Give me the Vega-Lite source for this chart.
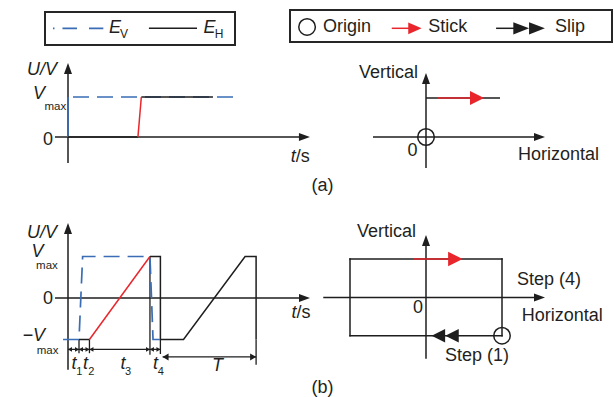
{
"$schema": "https://vega.github.io/schema/vega-lite/v6.json",
"width": 614, "height": 397, "autosize": "none", "padding": 0, "background": "white",
"config": {"view": {"stroke": null}, "text": {"font": "Liberation Sans", "color": "#231f20"}},
"resolve": {"scale": {"x": "independent", "y": "independent"}},
"layer": [
 {
  "encoding": {
   "x": {"field": "x", "type": "quantitative", "axis": null, "scale": {"domain": [0, 1], "range": [45, 235], "nice": false, "zero": false}},
   "y": {"field": "y", "type": "quantitative", "axis": null, "scale": {"domain": [0, 1], "range": [45, 12], "nice": false, "zero": false}}
  },
  "layer": [
   {"data": {"values": [{"x": 0, "y": 0, "x2": 1, "y2": 1}]}, "mark": {"type": "rect", "filled": false, "stroke": "#262626", "strokeWidth": 2}, "encoding": {"x2": {"field": "x2"}, "y2": {"field": "y2"}}},
   {"data": {"values": [{"x": 0.042, "y": 0.506, "x2": 0.307, "y2": 0.506}]}, "mark": {"type": "rule", "color": "#3a6db5", "strokeWidth": 1.7, "strokeDash": [1.5, 8, 14.5, 12, 14.5, 20]}, "encoding": {"x2": {"field": "x2"}, "y2": {"field": "y2"}}},
   {"data": {"values": [{"x": 0.547, "y": 0.506, "x2": 0.8, "y2": 0.506}]}, "mark": {"type": "rule", "color": "#1e1e1e", "strokeWidth": 1.5}, "encoding": {"x2": {"field": "x2"}, "y2": {"field": "y2"}}},
   {"data": {"values": [{"x": 0.368, "y": 0.506, "label": "E"}, {"x": 0.866, "y": 0.506, "label": "E"}]}, "mark": {"type": "text", "fontSize": 18, "fontStyle": "italic", "align": "center", "baseline": "middle"}, "encoding": {"text": {"field": "label"}}},
   {"data": {"values": [{"x": 0.416, "y": 0.333, "label": "V"}, {"x": 0.916, "y": 0.333, "label": "H"}]}, "mark": {"type": "text", "fontSize": 12, "align": "center", "baseline": "middle"}, "encoding": {"text": {"field": "label"}}}
  ]
 },
 {
  "encoding": {
   "x": {"field": "x", "type": "quantitative", "axis": null, "scale": {"domain": [0, 1], "range": [290, 612], "nice": false, "zero": false}},
   "y": {"field": "y", "type": "quantitative", "axis": null, "scale": {"domain": [0, 1], "range": [42, 10], "nice": false, "zero": false}}
  },
  "layer": [
   {"data": {"values": [{"x": 0, "y": 0, "x2": 1, "y2": 1}]}, "mark": {"type": "rect", "filled": false, "stroke": "#262626", "strokeWidth": 2}, "encoding": {"x2": {"field": "x2"}, "y2": {"field": "y2"}}},
   {"data": {"values": [{"x": 0.053, "y": 0.47}]}, "mark": {"type": "point", "shape": "circle", "size": 275, "filled": false, "stroke": "#1e1e1e", "strokeWidth": 1.5, "opacity": 1}},
   {"data": {"values": [{"x": 0.316, "y": 0.428, "x2": 0.37, "y2": 0.428}]}, "mark": {"type": "rule", "color": "#e8262c", "strokeWidth": 1.5}, "encoding": {"x2": {"field": "x2"}, "y2": {"field": "y2"}}},
   {"data": {"values": [{"x": 0.388, "y": 0.428}]}, "mark": {"type": "point", "shape": "M1,0L-1,-0.87L-1,0.87Z", "size": 180, "filled": true, "color": "#e8262c", "strokeWidth": 0, "opacity": 1}},
   {"data": {"values": [{"x": 0.64, "y": 0.428, "x2": 0.717, "y2": 0.428}]}, "mark": {"type": "rule", "color": "#1e1e1e", "strokeWidth": 1.5}, "encoding": {"x2": {"field": "x2"}, "y2": {"field": "y2"}}},
   {"data": {"values": [{"x": 0.718, "y": 0.428}, {"x": 0.767, "y": 0.428}]}, "mark": {"type": "point", "shape": "M1,0L-1,-0.78L-1,0.78Z", "size": 250, "filled": true, "color": "#1e1e1e", "strokeWidth": 0, "opacity": 1}},
   {"data": {"values": [{"x": 0.1025, "y": 0.47, "label": "Origin"}, {"x": 0.4295, "y": 0.47, "label": "Stick"}, {"x": 0.823, "y": 0.47, "label": "Slip"}]}, "mark": {"type": "text", "fontSize": 18, "align": "left", "baseline": "middle"}, "encoding": {"text": {"field": "label"}}}
  ]
 },
 {
  "encoding": {
   "x": {"field": "x", "type": "quantitative", "axis": null, "scale": {"domain": [0, 1], "range": [68, 92.2], "nice": false, "zero": false}},
   "y": {"field": "y", "type": "quantitative", "axis": null, "scale": {"domain": [0, 1], "range": [137, 97], "nice": false, "zero": false}}
  },
  "layer": [
   {"data": {"values": [{"x": 0, "y": -0.65, "x2": 0, "y2": 1.71}, {"x": -0.54, "y": 0, "x2": 9.77, "y2": 0}]}, "mark": {"type": "rule", "color": "#1e1e1e", "strokeWidth": 1.5}, "encoding": {"x2": {"field": "x2"}, "y2": {"field": "y2"}}},
   {"data": {"values": [{"x": 0, "y": 1, "x2": 6.9, "y2": 1}]}, "mark": {"type": "rule", "color": "#3a6db5", "strokeWidth": 1.7, "strokeDash": [16, 8], "strokeDashOffset": -5}, "encoding": {"x2": {"field": "x2"}, "y2": {"field": "y2"}}},
   {"data": {"values": [{"x": 0, "y": 0, "x2": 0, "y2": 1}]}, "mark": {"type": "rule", "color": "#3a6db5", "strokeWidth": 1.7}, "encoding": {"x2": {"field": "x2"}, "y2": {"field": "y2"}}},
   {"data": {"values": [{"x": 0, "y": 0, "x2": 2.89, "y2": 0}, {"x": 3.03, "y": 1, "x2": 5.99, "y2": 1}]}, "mark": {"type": "rule", "color": "#1e1e1e", "strokeWidth": 1.5}, "encoding": {"x2": {"field": "x2"}, "y2": {"field": "y2"}}},
   {"data": {"values": [{"x": 2.89, "y": 0, "x2": 3.03, "y2": 1}]}, "mark": {"type": "rule", "color": "#e8262c", "strokeWidth": 1.5}, "encoding": {"x2": {"field": "x2"}, "y2": {"field": "y2"}}},
   {"data": {"values": [{"x": 9.77, "y": 0}]}, "mark": {"type": "point", "shape": "M1,0L-1,-0.73L-1,0.73Z", "size": 121, "filled": true, "color": "#1e1e1e", "strokeWidth": 0, "opacity": 1}},
   {"data": {"values": [{"x": 0, "y": 1.71}]}, "mark": {"type": "point", "shape": "M1,0L-1,-0.73L-1,0.73Z", "size": 121, "angle": 270, "filled": true, "color": "#1e1e1e", "strokeWidth": 0, "opacity": 1}},
   {"data": {"values": [{"x": -1.07, "y": 1.675, "label": "U/V"}]}, "mark": {"type": "text", "fontSize": 18, "fontStyle": "italic", "align": "center", "baseline": "middle"}, "encoding": {"text": {"field": "label"}}},
   {"data": {"values": [{"x": -0.95, "y": 1.075, "label": "V"}]}, "mark": {"type": "text", "fontSize": 18, "fontStyle": "italic", "align": "right", "baseline": "middle"}, "encoding": {"text": {"field": "label"}}},
   {"data": {"values": [{"x": -0.97, "y": 0.75, "label": "max"}]}, "mark": {"type": "text", "fontSize": 11.5, "align": "left", "baseline": "middle"}, "encoding": {"text": {"field": "label"}}},
   {"data": {"values": [{"x": -0.83, "y": -0.075, "label": "0"}]}, "mark": {"type": "text", "fontSize": 18, "align": "center", "baseline": "middle"}, "encoding": {"text": {"field": "label"}}},
   {"data": {"values": [{"x": 9.2, "y": -0.5, "label": "t"}]}, "mark": {"type": "text", "fontSize": 18, "fontStyle": "italic", "align": "left", "baseline": "middle"}, "encoding": {"text": {"field": "label"}}},
   {"data": {"values": [{"x": 9.41, "y": -0.5, "label": "/s"}]}, "mark": {"type": "text", "fontSize": 18, "align": "left", "baseline": "middle"}, "encoding": {"text": {"field": "label"}}}
  ]
 },
 {
  "encoding": {
   "x": {"field": "x", "type": "quantitative", "axis": null, "scale": {"domain": [0, 1], "range": [426, 446], "nice": false, "zero": false}},
   "y": {"field": "y", "type": "quantitative", "axis": null, "scale": {"domain": [0, 1], "range": [137, 117], "nice": false, "zero": false}}
  },
  "layer": [
   {"data": {"values": [{"x": -2.65, "y": 0, "x2": 5.675, "y2": 0}, {"x": 0, "y": -1.55, "x2": 0, "y2": 2.925}, {"x": 0, "y": 1.95, "x2": 3.7, "y2": 1.95}]}, "mark": {"type": "rule", "color": "#1e1e1e", "strokeWidth": 1.5}, "encoding": {"x2": {"field": "x2"}, "y2": {"field": "y2"}}},
   {"data": {"values": [{"x": 0.55, "y": 1.95, "x2": 2.2, "y2": 1.95}]}, "mark": {"type": "rule", "color": "#e8262c", "strokeWidth": 1.5}, "encoding": {"x2": {"field": "x2"}, "y2": {"field": "y2"}}},
   {"data": {"values": [{"x": 2.55, "y": 1.95}]}, "mark": {"type": "point", "shape": "M1,0L-1,-1L-1,1Z", "size": 196, "filled": true, "color": "#e8262c", "strokeWidth": 0, "opacity": 1}},
   {"data": {"values": [{"x": 0, "y": 0}]}, "mark": {"type": "point", "shape": "circle", "size": 275, "filled": false, "stroke": "#1e1e1e", "strokeWidth": 1.5, "opacity": 1}},
   {"data": {"values": [{"x": 5.675, "y": 0}]}, "mark": {"type": "point", "shape": "M1,0L-1,-0.73L-1,0.73Z", "size": 121, "filled": true, "color": "#1e1e1e", "strokeWidth": 0, "opacity": 1}},
   {"data": {"values": [{"x": 0, "y": 2.925}]}, "mark": {"type": "point", "shape": "M1,0L-1,-0.73L-1,0.73Z", "size": 121, "angle": 270, "filled": true, "color": "#1e1e1e", "strokeWidth": 0, "opacity": 1}},
   {"data": {"values": [{"x": -0.4, "y": 3.2, "label": "Vertical"}]}, "mark": {"type": "text", "fontSize": 18, "align": "right", "baseline": "middle"}, "encoding": {"text": {"field": "label"}}},
   {"data": {"values": [{"x": 4.6, "y": -0.9, "label": "Horizontal"}]}, "mark": {"type": "text", "fontSize": 18, "align": "left", "baseline": "middle"}, "encoding": {"text": {"field": "label"}}},
   {"data": {"values": [{"x": -0.675, "y": -0.7, "label": "0"}, {"x": -5.175, "y": -2.43, "label": "(a)"}]}, "mark": {"type": "text", "fontSize": 18, "align": "center", "baseline": "middle"}, "encoding": {"text": {"field": "label"}}}
  ]
 },
 {
  "encoding": {
   "x": {"field": "x", "type": "quantitative", "axis": null, "scale": {"domain": [0, 1], "range": [68, 79], "nice": false, "zero": false}},
   "y": {"field": "y", "type": "quantitative", "axis": null, "scale": {"domain": [0, 1], "range": [298, 256.5], "nice": false, "zero": false}}
  },
  "layer": [
   {"data": {"values": [{"x": 0, "y": -1.73, "x2": 0, "y2": 1.675}, {"x": -1.18, "y": 0, "x2": 21.5, "y2": 0}]}, "mark": {"type": "rule", "color": "#1e1e1e", "strokeWidth": 1.5}, "encoding": {"x2": {"field": "x2"}, "y2": {"field": "y2"}}},
   {"data": {"values": [{"x": 1, "y": -1, "x2": 1, "y2": -1.33}, {"x": 1.95, "y": -1, "x2": 1.95, "y2": -1.33}, {"x": 7.45, "y": 1, "x2": 7.45, "y2": -1.37}, {"x": 8.4, "y": -1, "x2": 8.4, "y2": -1.35}, {"x": 17.1, "y": -1, "x2": 17.1, "y2": -1.61}, {"x": 0, "y": -1.24, "x2": 8.4, "y2": -1.24}, {"x": 8.6, "y": -1.42, "x2": 17.1, "y2": -1.42}]}, "mark": {"type": "rule", "color": "#1e1e1e", "strokeWidth": 1.3}, "encoding": {"x2": {"field": "x2"}, "y2": {"field": "y2"}}},
   {"data": {"values": [{"i": 0, "x": -0.45, "y": -1}, {"i": 1, "x": 1, "y": -1}, {"i": 2, "x": 1.33, "y": 1}, {"i": 3, "x": 7.45, "y": 1}, {"i": 4, "x": 7.73, "y": -1}, {"i": 5, "x": 8.4, "y": -1}]}, "mark": {"type": "line", "color": "#3a6db5", "strokeWidth": 1.7, "strokeDash": [16, 8], "strokeJoin": "miter"}, "encoding": {"order": {"field": "i", "type": "quantitative"}}},
   {"data": {"values": [{"x": 1, "y": -1, "x2": 1.95, "y2": -1}]}, "mark": {"type": "rule", "color": "#1e1e1e", "strokeWidth": 1.5}, "encoding": {"x2": {"field": "x2"}, "y2": {"field": "y2"}}},
   {"data": {"values": [{"i": 0, "x": 7.45, "y": 1}, {"i": 1, "x": 8.4, "y": 1}, {"i": 2, "x": 8.4, "y": -1}, {"i": 3, "x": 10.5, "y": -1}, {"i": 4, "x": 16.1, "y": 1}, {"i": 5, "x": 17.1, "y": 1}, {"i": 6, "x": 17.1, "y": -1}]}, "mark": {"type": "line", "color": "#1e1e1e", "strokeWidth": 1.5, "strokeJoin": "miter"}, "encoding": {"order": {"field": "i", "type": "quantitative"}}},
   {"data": {"values": [{"x": 1.95, "y": -1, "x2": 7.45, "y2": 1}]}, "mark": {"type": "rule", "color": "#e8262c", "strokeWidth": 1.5}, "encoding": {"x2": {"field": "x2"}, "y2": {"field": "y2"}}},
   {"data": {"values": [{"x": 0.82, "y": -1.24}, {"x": 1.77, "y": -1.24}, {"x": 7.27, "y": -1.24}, {"x": 8.22, "y": -1.24}]}, "mark": {"type": "point", "shape": "M1,0L-1,-1.2L-1,1.2Z", "size": 16, "filled": true, "color": "#1e1e1e", "strokeWidth": 0, "opacity": 1}},
   {"data": {"values": [{"x": 0.18, "y": -1.24}, {"x": 1.18, "y": -1.24}, {"x": 2.13, "y": -1.24}, {"x": 7.63, "y": -1.24}]}, "mark": {"type": "point", "shape": "M1,0L-1,-1.2L-1,1.2Z", "size": 16, "angle": 180, "filled": true, "color": "#1e1e1e", "strokeWidth": 0, "opacity": 1}},
   {"data": {"values": [{"x": 16.83, "y": -1.42}]}, "mark": {"type": "point", "shape": "M1,0L-1,-1.15L-1,1.15Z", "size": 36, "filled": true, "color": "#1e1e1e", "strokeWidth": 0, "opacity": 1}},
   {"data": {"values": [{"x": 8.87, "y": -1.42}]}, "mark": {"type": "point", "shape": "M1,0L-1,-1.15L-1,1.15Z", "size": 36, "angle": 180, "filled": true, "color": "#1e1e1e", "strokeWidth": 0, "opacity": 1}},
   {"data": {"values": [{"x": 21.5, "y": 0}]}, "mark": {"type": "point", "shape": "M1,0L-1,-0.73L-1,0.73Z", "size": 121, "filled": true, "color": "#1e1e1e", "strokeWidth": 0, "opacity": 1}},
   {"data": {"values": [{"x": 0, "y": 1.675}]}, "mark": {"type": "point", "shape": "M1,0L-1,-0.73L-1,0.73Z", "size": 121, "angle": 270, "filled": true, "color": "#1e1e1e", "strokeWidth": 0, "opacity": 1}},
   {"data": {"values": [{"x": -2.36, "y": 1.57, "label": "U/V"}, {"x": 0.55, "y": -1.59, "label": "t"}, {"x": 1.6, "y": -1.59, "label": "t"}, {"x": 5.0, "y": -1.59, "label": "t"}, {"x": 7.95, "y": -1.59, "label": "t"}, {"x": 13.6, "y": -1.64, "label": "T"}]}, "mark": {"type": "text", "fontSize": 18, "fontStyle": "italic", "align": "center", "baseline": "middle"}, "encoding": {"text": {"field": "label"}}},
   {"data": {"values": [{"x": 1.02, "y": -1.79, "label": "1"}, {"x": 2.12, "y": -1.79, "label": "2"}, {"x": 5.45, "y": -1.79, "label": "3"}, {"x": 8.43, "y": -1.79, "label": "4"}]}, "mark": {"type": "text", "fontSize": 11, "align": "center", "baseline": "middle"}, "encoding": {"text": {"field": "label"}}},
   {"data": {"values": [{"x": -2.23, "y": 1.11, "label": "V"}, {"x": -2.09, "y": -0.92, "label": "−V"}]}, "mark": {"type": "text", "fontSize": 18, "fontStyle": "italic", "align": "right", "baseline": "middle"}, "encoding": {"text": {"field": "label"}}},
   {"data": {"values": [{"x": -2.9, "y": 0.76, "label": "max"}, {"x": -2.85, "y": -1.27, "label": "max"}]}, "mark": {"type": "text", "fontSize": 11.5, "align": "left", "baseline": "middle"}, "encoding": {"text": {"field": "label"}}},
   {"data": {"values": [{"x": -1.82, "y": -0.02, "label": "0"}]}, "mark": {"type": "text", "fontSize": 18, "align": "center", "baseline": "middle"}, "encoding": {"text": {"field": "label"}}},
   {"data": {"values": [{"x": 20.32, "y": -0.36, "label": "t"}]}, "mark": {"type": "text", "fontSize": 18, "fontStyle": "italic", "align": "left", "baseline": "middle"}, "encoding": {"text": {"field": "label"}}},
   {"data": {"values": [{"x": 20.77, "y": -0.36, "label": "/s"}]}, "mark": {"type": "text", "fontSize": 18, "align": "left", "baseline": "middle"}, "encoding": {"text": {"field": "label"}}}
  ]
 },
 {
  "encoding": {
   "x": {"field": "x", "type": "quantitative", "axis": null, "scale": {"domain": [0, 1], "range": [426, 446], "nice": false, "zero": false}},
   "y": {"field": "y", "type": "quantitative", "axis": null, "scale": {"domain": [0, 1], "range": [297.5, 277.5], "nice": false, "zero": false}}
  },
  "layer": [
   {"data": {"values": [{"x": -5.1, "y": 0, "x2": 5.675, "y2": 0}, {"x": 0, "y": -3.03, "x2": 0, "y2": 2.85}, {"x": -3.8, "y": 1.925, "x2": 3.8, "y2": 1.925}, {"x": -3.8, "y": -1.91, "x2": 3.8, "y2": -1.91}, {"x": -3.8, "y": -1.91, "x2": -3.8, "y2": 1.925}, {"x": 3.8, "y": -1.91, "x2": 3.8, "y2": 1.925}]}, "mark": {"type": "rule", "color": "#1e1e1e", "strokeWidth": 1.5, "strokeCap": "square"}, "encoding": {"x2": {"field": "x2"}, "y2": {"field": "y2"}}},
   {"data": {"values": [{"x": -0.65, "y": 1.925, "x2": 1.1, "y2": 1.925}]}, "mark": {"type": "rule", "color": "#e8262c", "strokeWidth": 1.5}, "encoding": {"x2": {"field": "x2"}, "y2": {"field": "y2"}}},
   {"data": {"values": [{"x": 1.47, "y": 1.925}]}, "mark": {"type": "point", "shape": "M1,0L-1,-1L-1,1Z", "size": 210, "filled": true, "color": "#e8262c", "strokeWidth": 0, "opacity": 1}},
   {"data": {"values": [{"x": 0.62, "y": -1.91}, {"x": 1.3, "y": -1.91}]}, "mark": {"type": "point", "shape": "M1,0L-1,-1L-1,1Z", "size": 182, "angle": 180, "filled": true, "color": "#1e1e1e", "strokeWidth": 0, "opacity": 1}},
   {"data": {"values": [{"x": 3.8, "y": -1.91}]}, "mark": {"type": "point", "shape": "circle", "size": 270, "filled": false, "stroke": "#1e1e1e", "strokeWidth": 1.5, "opacity": 1}},
   {"data": {"values": [{"x": 5.675, "y": 0}]}, "mark": {"type": "point", "shape": "M1,0L-1,-0.73L-1,0.73Z", "size": 121, "filled": true, "color": "#1e1e1e", "strokeWidth": 0, "opacity": 1}},
   {"data": {"values": [{"x": 0, "y": 2.85}]}, "mark": {"type": "point", "shape": "M1,0L-1,-0.73L-1,0.73Z", "size": 121, "angle": 270, "filled": true, "color": "#1e1e1e", "strokeWidth": 0, "opacity": 1}},
   {"data": {"values": [{"x": -0.5, "y": 3.3, "label": "Vertical"}]}, "mark": {"type": "text", "fontSize": 18, "align": "right", "baseline": "middle"}, "encoding": {"text": {"field": "label"}}},
   {"data": {"values": [{"x": 4.55, "y": 0.875, "label": "Step (4)"}, {"x": 4.785, "y": -0.925, "label": "Horizontal"}, {"x": 0.95, "y": -2.925, "label": "Step (1)"}]}, "mark": {"type": "text", "fontSize": 18, "align": "left", "baseline": "middle"}, "encoding": {"text": {"field": "label"}}},
   {"data": {"values": [{"x": -0.4, "y": -0.525, "label": "0"}, {"x": -5.175, "y": -4.525, "label": "(b)"}]}, "mark": {"type": "text", "fontSize": 18, "align": "center", "baseline": "middle"}, "encoding": {"text": {"field": "label"}}}
  ]
 }
]
}
